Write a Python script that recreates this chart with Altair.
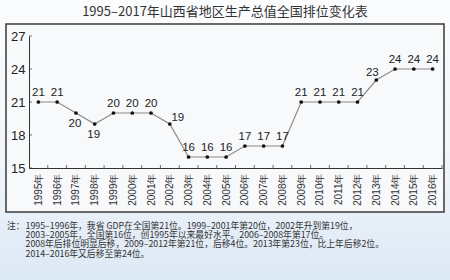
import json
import altair as alt
import pandas as pd

years = ["1995年", "1996年", "1997年", "1998年", "1999年", "2000年", "2001年", "2002年",
         "2003年", "2004年", "2005年", "2006年", "2007年", "2008年", "2009年", "2010年",
         "2011年", "2012年", "2013年", "2014年", "2015年", "2016年"]
ranks = [21, 21, 20, 19, 20, 20, 20, 19, 16, 16, 16, 17, 17, 17, 21, 21, 21, 21, 23, 24, 24, 24]
y_ticks = [15, 18, 21, 24, 27]

title_text = "1995–2017年山西省地区生产总值全国排位变化表"
note_head = "注："
note_lines = [
    "1995–1996年，我省 GDP在全国第21位。1999–2001年第20位，2002年升到第19位，",
    "2003–2005年，全国第16位，创1995年以来最好水平。2006–2008年第17位。",
    "2008年后排位明显后移，2009–2012年第21位，后移4位。2013年第23位，比上年后移2位。",
    "2014–2016年又后移至第24位。",
]

below_years = ["1997年", "1998年"]
right_years = ["2002年"]
left_years = ["2013年"]

FONT = "Noto Sans CJK SC"
W, H = 413, 132
N = len(years)
STEP_X = W / N
STEP_Y = H / (27 - 15)

df = pd.DataFrame({"year": years, "rank": ranks, "idx": list(range(N))})
tick_df = pd.DataFrame({"v": y_ticks})
one = pd.DataFrame({"a": [0]})


def px_x(p):
    return -0.5 + p / STEP_X


def px_y(p):
    return 27 - p / STEP_Y


# frame geometry (decoration only): background panel and framed box, in pixels of the plot
frame = pd.DataFrame({
    "x1": [px_x(-29), px_x(-23)], "x2": [px_x(421), px_x(415)],
    "y1": [px_y(-36), px_y(-12)], "y2": [px_y(244), px_y(176)],
    "kind": ["bg", "box"],
})

xscale = alt.Scale(domain=[-0.5, N - 0.5], nice=False, zero=False)
yscale = alt.Scale(domain=[15, 27], nice=False, zero=False)

xaxis = alt.Axis(title=None, values=list(range(N)),
                 labelExpr=json.dumps(years, ensure_ascii=False) + "[datum.value]",
                 labelAngle=270, labelFont="Liberation Sans", labelFontSize=10,
                 labelColor="#333", domainColor="#333", ticks=False, grid=False,
                 labelPadding=5, labelAlign="right", labelBaseline="middle",
                 labelFlush=False, labelOverlap=False, zindex=2)
yaxis = alt.Axis(title=None, values=y_ticks, labelFont="Liberation Sans",
                 labelFontSize=13, labelColor="#222", domainColor="#333",
                 ticks=False, grid=False, labelPadding=4, labelFlush=False, zindex=2)

X = alt.X("idx:Q", scale=xscale, axis=xaxis)
Y = alt.Y("rank:Q", scale=yscale, axis=yaxis)

fx1 = alt.X("x1:Q", scale=xscale, axis=xaxis)
fy1 = alt.Y("y1:Q", scale=yscale, axis=yaxis)

bg = alt.Chart(frame).transform_filter("datum.kind == 'bg'").mark_rect(
    fill={"gradient": "linear", "x1": 0, "y1": 0, "x2": 0, "y2": 1,
          "stops": [{"offset": 0, "color": "#fbfcfd"}, {"offset": 0.55, "color": "#f2f6fa"},
                    {"offset": 1, "color": "#dce8f5"}]},
    opacity=1,
).encode(x=fx1, x2="x2:Q", y=fy1, y2="y2:Q")

box = alt.Chart(frame).transform_filter("datum.kind == 'box'").mark_rect(
    fill="#f7f9fb", stroke="#3a3a3a", strokeWidth=1.5, opacity=1
).encode(x=fx1, x2="x2:Q", y=fy1, y2="y2:Q")

base = alt.Chart(df)
line = base.mark_line(color="#8a8a8a", strokeWidth=1.2).encode(x=X, y=Y)
pts = base.mark_circle(color="#111", size=14, opacity=1).encode(x=X, y=Y)

lab_kw = dict(font="Liberation Sans", fontSize=11.5, color="#222")
lab_above = base.transform_filter(
    ~alt.FieldOneOfPredicate(field="year", oneOf=below_years + right_years + left_years)
).mark_text(dy=-9, **lab_kw).encode(x=X, y=Y, text="rank:Q")
lab_below = base.transform_filter(
    alt.FieldOneOfPredicate(field="year", oneOf=below_years)
).mark_text(dy=11, dx=-1, **lab_kw).encode(x=X, y=Y, text="rank:Q")
lab_right = base.transform_filter(
    alt.FieldOneOfPredicate(field="year", oneOf=right_years)
).mark_text(dy=-6, dx=8, **lab_kw).encode(x=X, y=Y, text="rank:Q")
lab_left = base.transform_filter(
    alt.FieldOneOfPredicate(field="year", oneOf=left_years)
).mark_text(dy=-7, dx=-4, **lab_kw).encode(x=X, y=Y, text="rank:Q")

ytick = alt.Chart(tick_df).mark_tick(color="#333", thickness=1, size=3, orient="horizontal").encode(
    y=alt.Y("v:Q", scale=yscale, axis=yaxis), x=alt.value(1.5))
xtick = base.transform_calculate(b="datum.idx + 0.5").mark_tick(
    color="#333", thickness=1, size=3, orient="vertical").encode(
    x=alt.X("b:Q", scale=xscale, axis=xaxis), y=alt.value(H - 1.5))

title = alt.Chart(one).mark_text(font=FONT, fontSize=13, color="#333", align="center",
                                 baseline="middle").encode(
    x=alt.value(196), y=alt.value(-24), text=alt.value(title_text))

note_kw = dict(font=FONT, fontSize=8.8, color="#333", align="left", baseline="middle")
note_layers = [alt.Chart(one).mark_text(**note_kw).encode(
    x=alt.value(-22), y=alt.value(190), text=alt.value(note_head))]
for i, t in enumerate(note_lines):
    note_layers.append(alt.Chart(one).mark_text(**note_kw).encode(
        x=alt.value(-3.5), y=alt.value(190 + 9.2 * i), text=alt.value(t)))

chart = alt.layer(
    bg, box, line, pts,
    lab_above, lab_below, lab_right, lab_left, ytick, xtick, title, *note_layers
).properties(
    width=W, height=H,
    autosize=alt.AutoSizeParams(type="none"),
    padding={"left": 29, "top": 36, "right": 8, "bottom": 112},
    background="#eef3f9",
).configure_view(stroke=None)

chart.save("out.html", embed_options={"renderer": "svg", "actions": False})
